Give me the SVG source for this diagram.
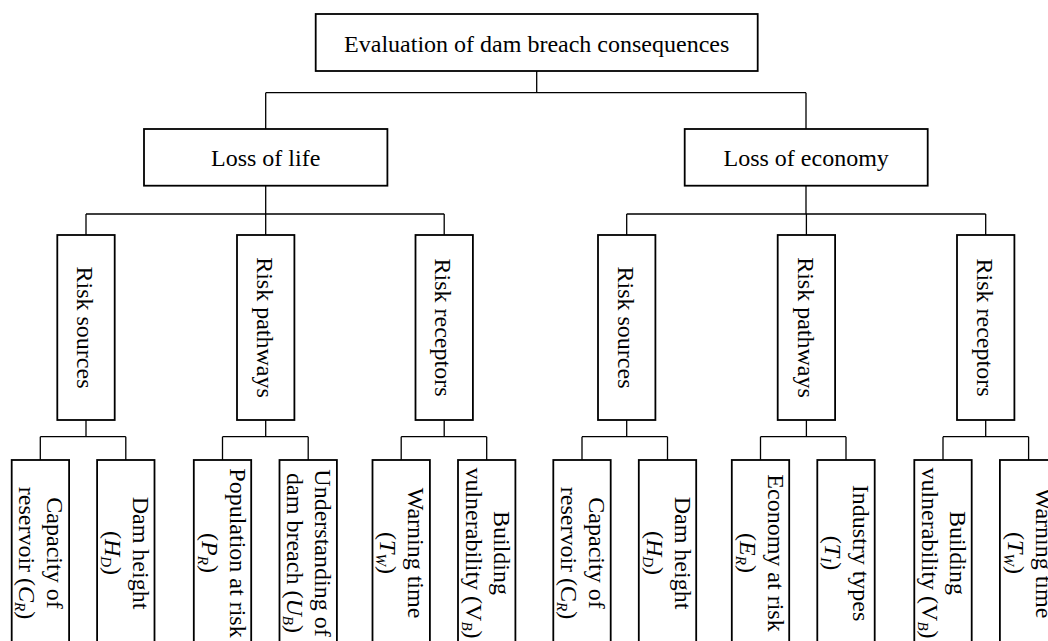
<svg xmlns="http://www.w3.org/2000/svg" width="1048" height="641" viewBox="0 0 1048 641">
<style>
.box{fill:#fff;stroke:#000;stroke-width:1.8}
.ln{fill:none;stroke:#000;stroke-width:1.3}
text{font-family:"Liberation Serif","Times New Roman",serif;font-size:24px;fill:#000;text-anchor:middle}
.i{font-style:italic}
.s{font-size:15px;font-style:italic}
</style>
<rect width="1048" height="641" fill="#fff"/>
<g id="connectors">
<path class="ln" d="M536.7,71V92.7M265.7,92.7H806M265.7,92.7V129M806,92.7V129"/>
<path class="ln" d="M265.7,185.7V214M86,214H444.2M86,214V235M265.7,214V235M444.2,214V235"/>
<path class="ln" d="M806,185.7V214M626.7,214H985.7M626.7,214V235M806.4,214V235M985.7,214V235"/>
<path class="ln" d="M86,420V436.7M40.3,436.7H125.8M40.3,436.7V460M125.8,436.7V460"/>
<path class="ln" d="M265.7,420V436.7M222.5,436.7H308.2M222.5,436.7V460M308.2,436.7V460"/>
<path class="ln" d="M444.2,420V436.7M401.2,436.7H486.7M401.2,436.7V460M486.7,436.7V460"/>
<path class="ln" d="M626.7,420V436.7M582,436.7H667.5M582,436.7V460M667.5,436.7V460"/>
<path class="ln" d="M806.4,420V436.7M760.5,436.7H846M760.5,436.7V460M846,436.7V460"/>
<path class="ln" d="M985.7,420V436.7M943,436.7H1028.6M943,436.7V460M1028.6,436.7V460"/>
</g>
<g id="root"><rect class="box" x="315.7" y="14" width="442" height="57"/><text x="536.7" y="52">Evaluation of dam breach consequences</text></g>
<g id="life"><rect class="box" x="144" y="129" width="243.4" height="56.7"/><text x="265.7" y="166">Loss of life</text></g>
<g id="economy"><rect class="box" x="684.7" y="129" width="243" height="56.7"/><text x="806.2" y="166">Loss of economy</text></g>

<g id="l-sources"><rect class="box" x="57.3" y="235" width="57.4" height="185"/><text transform="translate(86,327.5) rotate(90)" y="8.7">Risk sources</text></g>
<g id="l-pathways"><rect class="box" x="237" y="235" width="57.4" height="185"/><text transform="translate(265.7,327.5) rotate(90)" y="8.7">Risk pathways</text></g>
<g id="l-receptors"><rect class="box" x="415.5" y="235" width="57.4" height="185"/><text transform="translate(444.2,327.5) rotate(90)" y="8.7">Risk receptors</text></g>
<g id="e-sources"><rect class="box" x="598" y="235" width="57.4" height="185"/><text transform="translate(626.7,327.5) rotate(90)" y="8.7">Risk sources</text></g>
<g id="e-pathways"><rect class="box" x="777.7" y="235" width="57.4" height="185"/><text transform="translate(806.4,327.5) rotate(90)" y="8.7">Risk pathways</text></g>
<g id="e-receptors"><rect class="box" x="957" y="235" width="57.4" height="185"/><text transform="translate(985.7,327.5) rotate(90)" y="8.7">Risk receptors</text></g>

<g id="leaf1"><rect class="box" x="11.7" y="460" width="57.4" height="200"/><text transform="translate(40.3,553) rotate(90)"><tspan x="0" y="-7">Capacity of</tspan><tspan x="0" y="21">reservoir (<tspan class="i">C</tspan><tspan class="s" dy="4">R</tspan><tspan dy="-4">)</tspan></tspan></text></g>
<g id="leaf2"><rect class="box" x="97.1" y="460" width="57.4" height="200"/><text transform="translate(125.8,553) rotate(90)"><tspan x="0" y="-7">Dam height</tspan><tspan x="0" y="21">(<tspan class="i">H</tspan><tspan class="s" dy="4">D</tspan><tspan dy="-4">)</tspan></tspan></text></g>
<g id="leaf3"><rect class="box" x="193.8" y="460" width="57.4" height="200"/><text transform="translate(222.5,553) rotate(90)"><tspan x="0" y="-7">Population at risk</tspan><tspan x="0" y="21">(<tspan class="i">P</tspan><tspan class="s" dy="4">R</tspan><tspan dy="-4">)</tspan></tspan></text></g>
<g id="leaf4"><rect class="box" x="279.5" y="460" width="57.4" height="200"/><text transform="translate(308.2,553) rotate(90)"><tspan x="0" y="-7">Understanding of</tspan><tspan x="0" y="21">dam breach (<tspan class="i">U</tspan><tspan class="s" dy="4">B</tspan><tspan dy="-4">)</tspan></tspan></text></g>
<g id="leaf5"><rect class="box" x="372.5" y="460" width="57.4" height="200"/><text transform="translate(401.2,553) rotate(90)"><tspan x="0" y="-7">Warning time</tspan><tspan x="0" y="21">(<tspan class="i">T</tspan><tspan class="s" dy="4">W</tspan><tspan dy="-4">)</tspan></tspan></text></g>
<g id="leaf6"><rect class="box" x="458" y="460" width="57.4" height="200"/><text transform="translate(486.7,553) rotate(90)"><tspan x="0" y="-7">Building</tspan><tspan x="0" y="21">vulnerability (V<tspan class="s" dy="4">B</tspan><tspan dy="-4">)</tspan></tspan></text></g>
<g id="leaf7"><rect class="box" x="553.3" y="460" width="57.4" height="200"/><text transform="translate(582,553) rotate(90)"><tspan x="0" y="-7">Capacity of</tspan><tspan x="0" y="21">reservoir (C<tspan class="s" dy="4">R</tspan><tspan dy="-4">)</tspan></tspan></text></g>
<g id="leaf8"><rect class="box" x="638.8" y="460" width="57.4" height="200"/><text transform="translate(667.5,553) rotate(90)"><tspan x="0" y="-7">Dam height</tspan><tspan x="0" y="21">(<tspan class="i">H</tspan><tspan class="s" dy="4">D</tspan><tspan dy="-4">)</tspan></tspan></text></g>
<g id="leaf9"><rect class="box" x="731.8" y="460" width="57.4" height="200"/><text transform="translate(760.5,553) rotate(90)"><tspan x="0" y="-7">Economy at risk</tspan><tspan x="0" y="21">(<tspan class="i">E</tspan><tspan class="s" dy="4">R</tspan><tspan dy="-4">)</tspan></tspan></text></g>
<g id="leaf10"><rect class="box" x="817.3" y="460" width="57.4" height="200"/><text transform="translate(846,553) rotate(90)"><tspan x="0" y="-7">Industry types</tspan><tspan x="0" y="21">(<tspan class="i">T</tspan><tspan class="s" dy="4">I</tspan><tspan dy="-4">)</tspan></tspan></text></g>
<g id="leaf11"><rect class="box" x="914.3" y="460" width="57.4" height="200"/><text transform="translate(943,553) rotate(90)"><tspan x="0" y="-7">Building</tspan><tspan x="0" y="21">vulnerability (V<tspan class="s" dy="4">B</tspan><tspan dy="-4">)</tspan></tspan></text></g>
<g id="leaf12"><rect class="box" x="999.9" y="460" width="57.4" height="200"/><text transform="translate(1028.6,553) rotate(90)"><tspan x="0" y="-7">Warning time</tspan><tspan x="0" y="21">(<tspan class="i">T</tspan><tspan class="s" dy="4">W</tspan><tspan dy="-4">)</tspan></tspan></text></g>
</svg>
